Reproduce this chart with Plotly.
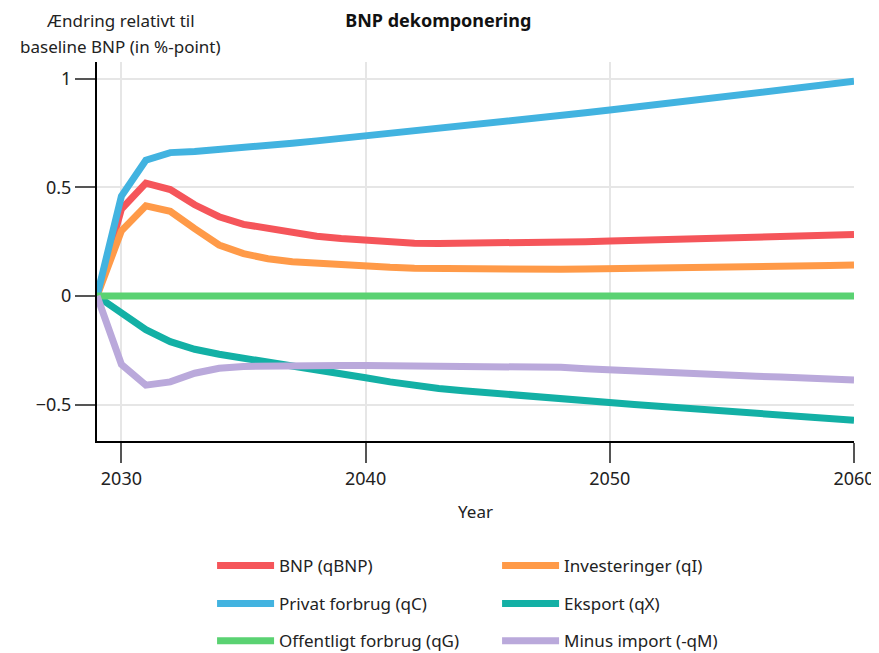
import plotly.graph_objects as go

years = list(range(2029, 2061))

bnp = [0, 0.40, 0.52, 0.49, 0.42, 0.365, 0.33, 0.31, 0.29, 0.275, 0.265, 0.255,
       0.248, 0.243, 0.242, 0.242, 0.243, 0.244, 0.245, 0.247, 0.25, 0.253,
       0.256, 0.259, 0.262, 0.265, 0.268, 0.271, 0.274, 0.277, 0.28, 0.283]
privat = [0, 0.46, 0.625, 0.66, 0.665, 0.673, 0.683, 0.693, 0.703, 0.714, 0.725, 0.736,
          0.747, 0.758, 0.77, 0.782, 0.794, 0.806, 0.818, 0.83, 0.843, 0.856,
          0.869, 0.882, 0.895, 0.908, 0.921, 0.934, 0.947, 0.96, 0.974, 0.988]
offentligt = [0] * 32
invest = [0, 0.30, 0.415, 0.39, 0.31, 0.235, 0.195, 0.172, 0.158, 0.15, 0.143, 0.138,
          0.132, 0.128, 0.126, 0.124, 0.123, 0.122, 0.122, 0.123, 0.124, 0.125,
          0.126, 0.128, 0.129, 0.131, 0.133, 0.135, 0.137, 0.139, 0.141, 0.143]
eksport = [0, -0.08, -0.155, -0.21, -0.245, -0.268, -0.285, -0.30, -0.318, -0.338, -0.357, -0.376,
           -0.395, -0.412, -0.425, -0.436, -0.446, -0.455, -0.464, -0.473, -0.482, -0.49,
           -0.499, -0.507, -0.515, -0.523, -0.531, -0.539, -0.547, -0.555, -0.563, -0.572]
minus_import = [0, -0.315, -0.41, -0.395, -0.355, -0.332, -0.324, -0.321, -0.32, -0.32, -0.32, -0.32,
                -0.32, -0.32, -0.32, -0.32, -0.32, -0.32, -0.323, -0.328, -0.334, -0.34,
                -0.345, -0.35, -0.355, -0.359, -0.364, -0.369, -0.373, -0.377, -0.381, -0.386]

series = [
    ("BNP (qBNP)", bnp, "#F5555A", "legend"),
    ("Investeringer (qI)", invest, "#FF9A48", "legend"),
    ("Privat forbrug (qC)", privat, "#42B3E0", "legend2"),
    ("Eksport (qX)", eksport, "#13B0A5", "legend2"),
    ("Offentligt forbrug (qG)", offentligt, "#5AD272", "legend3"),
    ("Minus import (-qM)", minus_import, "#BAA9DB", "legend3"),
]

FONT = "Noto Sans"

fig = go.Figure()
for name, vals, color, lg in series:
    fig.add_trace(go.Scatter(x=years, y=vals, name=name, mode="lines",
                             line=dict(color=color, width=7), legend=lg))

leg_common = dict(orientation="h", xanchor="left", yanchor="middle",
                  entrywidth=213, entrywidthmode="pixels", itemwidth=57,
                  font=dict(family=FONT, size=17, color="#222"),
                  bgcolor="rgba(0,0,0,0)", x=0.152)

fig.update_layout(
    width=871, height=645,
    margin=dict(l=89, r=25, t=54, b=212, autoexpand=False),
    plot_bgcolor="white", paper_bgcolor="white",
    font=dict(family=FONT, size=17, color="#222"),
    title=dict(text="<b>BNP dekomponering</b>", x=0.494, xanchor="center",
               y=0.981, yanchor="middle", font=dict(family=FONT, size=18, color="#111")),
    legend=dict(y=-0.33, **leg_common),
    legend2=dict(y=-0.43, **leg_common),
    legend3=dict(y=-0.528, **leg_common),
    xaxis=dict(range=[2029, 2060], tickvals=[2030, 2040, 2050, 2060],
               showgrid=True, gridcolor="#E6E6E6", gridwidth=1.5,
               showline=True, linecolor="black", linewidth=2,
               ticks="outside", ticklen=20, tickcolor="#555", tickwidth=1.5,
               zeroline=False, tickfont=dict(size=18), automargin=False,
               title=dict(text="Year", font=dict(size=17), standoff=18)),
    yaxis=dict(range=[-0.667, 1.077], tickvals=[-0.5, 0, 0.5, 1],
               ticktext=["\u22120.5", "0", "0.5", "1"],
               showgrid=True, gridcolor="#E6E6E6", gridwidth=1.5,
               showline=True, linecolor="black", linewidth=2,
               ticks="outside", ticklen=20, tickcolor="#555", tickwidth=1.5,
               zeroline=False, tickfont=dict(size=18), automargin=False),
    annotations=[
        dict(text="Ændring relativt til",
             xref="paper", yref="paper", x=0.0304, y=1.0, xanchor="center",
             yanchor="middle", showarrow=False,
             font=dict(family=FONT, size=17, color="#222"), yshift=42),
        dict(text="baseline BNP (in %-point)",
             xref="paper", yref="paper", x=0.0304, y=1.0, xanchor="center",
             yanchor="middle", showarrow=False,
             font=dict(family=FONT, size=17, color="#222"), yshift=16),
    ],
)

fig.write_html("out.html")
